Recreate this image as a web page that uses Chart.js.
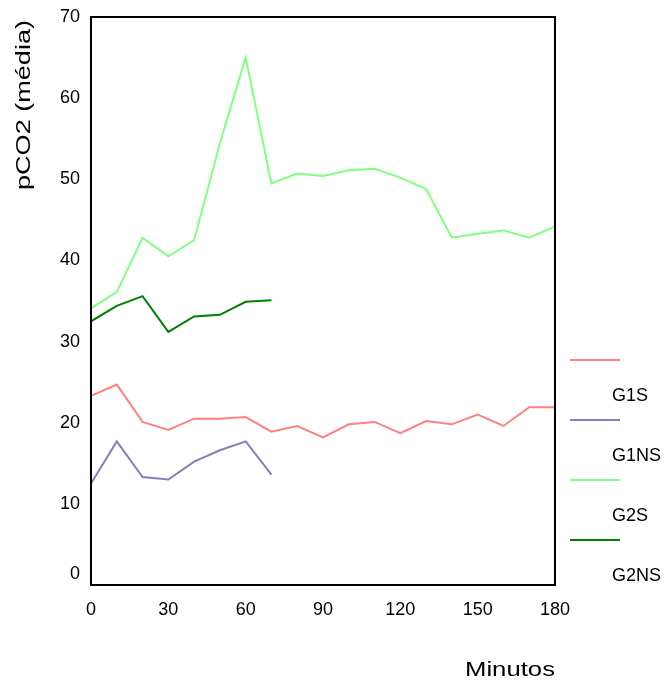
<!DOCTYPE html>
<html>
<head>
<meta charset="utf-8">
<script src="https://cdn.jsdelivr.net/npm/chart.js@4/dist/chart.umd.min.js"></script>
<style>
html,body{margin:0;padding:0;background:#fff;}
canvas{display:block;}
</style>
</head>
<body>
<canvas id="c" width="670" height="680"></canvas>
<script>
// ---- data ----
const minutesLong = [0,10,20,30,40,50,60,70,80,90,100,110,120,130,140,150,160,170,180];
const minutesShort = [0,10,20,30,40,50,60,70];
const seriesNames = ["G1S","G1NS","G2S","G2NS"];
const g1s  = [23.3,24.7,20.1,19.1,20.5,20.5,20.7,18.9,19.6,18.2,19.8,20.1,18.7,20.2,19.8,21.0,19.6,21.9,21.9];
const g1ns = [12.5,17.7,13.3,13.0,15.2,16.6,17.7,13.6];
const g2s  = [34.1,36.1,42.8,40.5,42.5,54.4,65.0,49.5,50.7,50.4,51.1,51.3,50.2,48.8,42.8,43.3,43.7,42.8,44.2];
const g2ns = [32.5,34.4,35.6,31.2,33.1,33.3,34.9,35.1];
const xTicks = [0,30,60,90,120,150,180];
const yTicks = [0,10,20,30,40,50,60,70];
const xTitle = "Minutos";
const yTitle = "pCO2 (média)";

const colors = ["#ff8080","#8080c0","#80ff80","#008000"];
const FONT = "'Liberation Sans', Arial, Helvetica, sans-serif";

function pts(xs, ys){ return ys.map((v,i)=>({x:xs[i], y:v})); }

const seriesData = [pts(minutesLong,g1s), pts(minutesShort,g1ns), pts(minutesLong,g2s), pts(minutesShort,g2ns)];

const boxPlugin = {
  id:'box',
  afterDatasetsDraw(chart){
    const {ctx, chartArea:a} = chart;
    ctx.save();
    ctx.strokeStyle = '#000';
    ctx.lineWidth = 2;
    ctx.strokeRect(a.left, a.top, a.right-a.left, a.bottom-a.top);
    ctx.restore();
  }
};

const legendPlugin = {
  id:'customLegend',
  afterDraw(chart){
    const ctx = chart.ctx;
    ctx.save();
    chart.data.datasets.forEach((ds,i)=>{
      const ly = 360 + 60*i;
      ctx.strokeStyle = ds.borderColor;
      ctx.lineWidth = 2;
      ctx.beginPath();
      ctx.moveTo(570, ly);
      ctx.lineTo(620, ly);
      ctx.stroke();
      ctx.fillStyle = '#000';
      ctx.font = "18px " + FONT;
      ctx.textAlign = 'left';
      ctx.textBaseline = 'middle';
      ctx.fillText(ds.label, 612, ly + 36);
    });
    ctx.restore();
  }
};

// the zero label of the y axis sits slightly raised in the reference
const zeroLabelPlugin = {
  id:'zeroLabel',
  afterDraw(chart){
    const ctx = chart.ctx;
    const y = chart.scales.y;
    ctx.save();
    ctx.fillStyle = '#000';
    ctx.font = "18px " + FONT;
    ctx.textAlign = 'right';
    ctx.textBaseline = 'middle';
    ctx.fillText(String(yTicks[0]), y.right - 11, y.getPixelForValue(yTicks[0]) - 11);
    ctx.restore();
  }
};

const titlesPlugin = {
  id:'axisTitles',
  afterDraw(chart){
    const ctx = chart.ctx;
    const a = chart.chartArea;
    ctx.save();
    ctx.fillStyle = '#000';
    ctx.font = "21px " + FONT;
    let w = ctx.measureText(xTitle).width;
    let sx = 90 / w;
    ctx.save();
    ctx.translate(a.right, 676);
    ctx.scale(sx, 1);
    ctx.textAlign = 'right';
    ctx.textBaseline = 'alphabetic';
    ctx.fillText(xTitle, 0, 0);
    ctx.restore();
    w = ctx.measureText(yTitle).width;
    sx = 170 / w;
    ctx.save();
    ctx.translate(30, 105);
    ctx.rotate(-Math.PI/2);
    ctx.scale(sx, 1);
    ctx.textAlign = 'center';
    ctx.textBaseline = 'alphabetic';
    ctx.fillText(yTitle, 0, 0);
    ctx.restore();
    ctx.restore();
  }
};

new Chart(document.getElementById('c'), {
  type:'line',
  data:{
    datasets: seriesNames.map((n,i)=>({
      label:n,
      data:seriesData[i],
      borderColor:colors[i],
      backgroundColor:colors[i],
      borderWidth:2,
      pointRadius:0,
      tension:0,
      fill:false
    }))
  },
  options:{
    responsive:false,
    devicePixelRatio:1,
    animation:false,
    layout:{padding:{top:17,right:115,left:0,bottom:0}},
    plugins:{legend:{display:false}, tooltip:{enabled:false}},
    scales:{
      x:{
        type:'linear', min:0, max:180,
        afterBuildTicks(s){ s.ticks = xTicks.map(v=>({value:v})); },
        grid:{display:false, drawTicks:false},
        border:{display:false},
        ticks:{color:'#000', font:{size:18, family:FONT}, padding:14, maxRotation:0, autoSkip:false},
        afterFit(s){ s.height = 95; s.paddingLeft = 0; s.paddingRight = 0; }
      },
      y:{
        min:0, max:70,
        afterBuildTicks(s){ s.ticks = yTicks.map(v=>({value:v})); },
        grid:{display:false, drawTicks:false},
        border:{display:false},
        ticks:{color:'#000', font:{size:18, family:FONT}, padding:11, autoSkip:false,
               callback:(v)=> v === yTicks[0] ? '' : String(v)},
        afterFit(s){ s.width = 91; s.paddingTop = 0; s.paddingBottom = 0; }
      }
    }
  },
  plugins:[boxPlugin, legendPlugin, zeroLabelPlugin, titlesPlugin]
});
</script>
</body>
</html>
